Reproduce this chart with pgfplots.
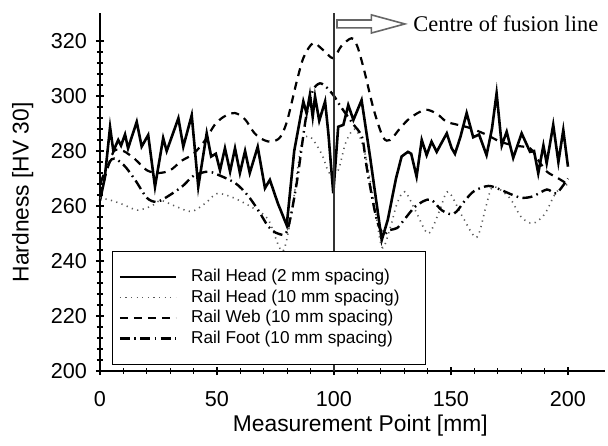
\documentclass[border=0pt]{standalone}
\usepackage{fontspec}
\setmainfont{Liberation Sans}
\newfontfamily\timesfont{Liberation Serif}
\usepackage{pgfplots}
\pgfplotsset{compat=1.18}

\begin{document}
\begin{tikzpicture}
\begin{axis}[
    scale only axis,
    width=252.7pt, height=178.75pt,
    xmin=0, xmax=216, ymin=200, ymax=330,
    axis x line*=bottom, axis y line*=left,
    axis line style={line width=0.8pt},
    xtick={0,50,...,200}, minor x tick num=4,
    ytick={200,220,...,320}, minor y tick num=4,
    tick align=center,
    major tick length=4pt, minor tick length=3pt,
    every tick/.style={black, line width=0.6pt},
    /pgf/number format/assume math mode=true,
    tick label style={font=\fontsize{10.8}{12}\selectfont},
    xticklabel style={yshift=-4.5pt},
    yticklabel style={xshift=-1pt},
    xlabel={Measurement Point [mm]},
    ylabel={Hardness [HV 30]},
    label style={font=\fontsize{11.4}{13}\selectfont},
    xlabel style={at={(axis description cs:0.515,0)}, anchor=center, yshift=-27.5pt},
    ylabel style={at={(axis description cs:-0.153,0.5)}, anchor=center},
    clip=false,
    legend style={at={(axis cs:5.1,202.2)}, anchor=south west,
      draw=black, line width=0.6pt,
      font=\fontsize{8.6}{10}\selectfont,
      inner xsep=3pt, inner ysep=7pt, row sep=-1.45pt, column sep=5pt},
    legend cell align=left,
    legend image code/.code={\draw[#1] (0pt,0pt) -- (28pt,0pt);},
  ]

  % Rail Head, 2 mm spacing
  \addplot[black, line width=1.3pt] coordinates {
    (0,262) (2,270) (4.3,288.7) (5.7,280) (7.8,284) (9,282) (10.7,286) (12,281)
    (15.7,290.6) (17.8,281.6) (20.6,285.8) (23.5,267) (27,284.7) (28.5,280)
    (33.5,291.9) (35.6,281.6) (39.2,293) (42,267) (45.6,286.4) (47.5,278)
    (49.5,279) (51.3,273) (53.4,281) (55.6,272.5) (57.7,281) (59.8,272) (62,280)
    (64,272) (67.4,281.5) (70.5,266.5) (72.6,269.5) (76,261) (79.8,253) (83,280)
    (86.9,298) (88.3,293.7) (89.7,300.4) (90.9,292.5) (91.9,299.8) (93.7,291)
    (96.2,298) (97.6,286.4) (99.7,264.6) (101.8,288.8) (104,289.5) (106.1,296.7)
    (108.3,291.3) (111.8,298.5) (115.4,278) (120.4,247.6) (123,255) (126.5,270)
    (128.9,278) (131.6,279.7) (133,279) (135.3,270.7) (137.5,284) (139.6,278.5)
    (141.7,283.4) (143.9,279.7) (146,283) (148.2,286.4) (150.3,281) (151.7,279)
    (154,285) (156.7,293.8) (159.5,285) (162,286) (165.2,278.5) (167.5,288)
    (169.5,301) (171.7,282) (173.8,287) (176.6,277.5) (180.2,286.4) (183.8,279.7)
    (185.5,280) (187.3,271.9) (189.5,282) (190.9,275.6) (193.7,289.5) (195.9,276)
    (198,287.6) (200,274.3)
  };
  \addlegendentry{Rail Head (2 mm spacing)}

  % Rail Head, 10 mm spacing
  \addplot[black!65, line width=0.8pt, dash pattern=on 0.6pt off 2.2pt, smooth, tension=0.5] coordinates {
    (0,263) (5,262) (10,260.5) (16,258.5) (22,260) (26,262) (32,260) (39,258)
    (45,261) (50,264.5) (57,263) (66,259) (72,255) (78,243.5) (82,258) (86,282)
    (89.7,285.2) (94.7,279) (98,272) (101.8,273) (105,283) (109,288) (113,280)
    (117,262) (120.5,245) (124,252) (127,261) (130.3,265.2) (135,258) (140.3,250)
    (145,258) (148.8,265.2) (155,256) (161,248.6) (165,260) (168,267) (175,263)
    (180,256) (185,253.7) (190,257) (195,265) (200,268)
  };
  \addlegendentry{Rail Head (10 mm spacing)\rule{8pt}{0pt}}

  % Rail Web, 10 mm spacing
  \addplot[black, line width=1.1pt, dash pattern=on 4pt off 3pt, smooth, tension=0.5] coordinates {
    (0,264) (3,273) (6,280) (10,280) (15,277) (20,273) (25,272) (30,273)
    (35,276.5) (40,279) (45,284) (49,289.5) (53,292.5) (57.7,293.8) (62,291.5)
    (66,286.5) (70,284) (73.4,283.4) (77,285) (80,291) (84,305) (87,314)
    (91,319.2) (95,317) (99.7,313.7) (103,318) (107.5,321) (110,318) (113,309)
    (117,295) (121,285) (124,284) (128,288) (132.5,292) (139,295) (144,293.5)
    (148,290.7) (153,289.5) (158,288.4) (165,286) (171,283.4) (177,282)
    (183.8,281) (187,277) (191,272.5) (195,270.5) (199.4,268.2)
  };
  \addlegendentry{Rail Web (10 mm spacing)}

  % Rail Foot, 10 mm spacing
  \addplot[black, line width=1.2pt, dash pattern=on 5pt off 2.2pt on 0.8pt off 2.2pt, smooth, tension=0.5] coordinates {
    (0,268) (5,277) (10,275) (15,269.5) (20,263) (24,261.5) (28,263) (35,267)
    (40,271) (46,272.5) (50,271.5) (57.7,268.4) (63,264) (67.6,258.5) (72,252.5)
    (76,250) (80,251) (84,268) (88,292) (91,302) (94,304.6) (97,303) (100,300)
    (103,296) (108,290) (112,285) (114,274) (118,256) (121,250) (124,251.3)
    (127,252) (130,255) (135,260) (141,262.4) (146,258.5) (150,257) (152.4,258)
    (156,262) (160,265.5) (166,267.3) (171,266) (175,264.5) (180,263)
    (185,263.5) (191,266) (195,264.6) (200,270)
  };
  \addlegendentry{Rail Foot (10 mm spacing)}

  % centre of the fusion line
  \draw[black!80, line width=0.8pt] (axis cs:100,200) -- (axis cs:100,330);
  \draw[black!60, line width=0.8pt, fill=white]
    (axis cs:101.3,324.75) -- (axis cs:116,324.75) -- (axis cs:116,322.9)
    -- (axis cs:130.3,326.2) -- (axis cs:116,329.5) -- (axis cs:116,327.65)
    -- (axis cs:101.3,327.65) -- cycle;
  \node[anchor=west, inner sep=0pt, font=\timesfont\fontsize{11.2}{13}\selectfont]
    at (axis cs:133.8,326.2) {Centre of fusion line};

  % page edges
  \path (rel axis cs:0,0) ++(-50pt,-37pt);
  \path (rel axis cs:1,1) ++(1.3pt,6.75pt);
\end{axis}
\end{tikzpicture}
\end{document}
